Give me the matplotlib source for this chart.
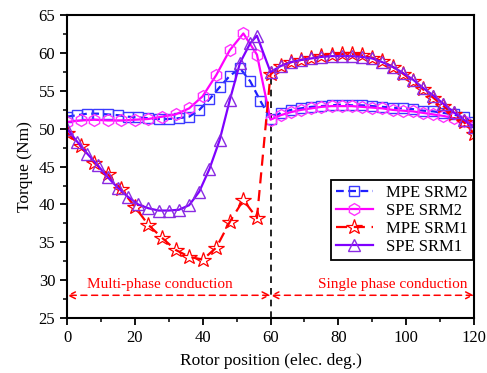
import numpy as np
from matplotlib import pyplot as plt
from matplotlib.ticker import MultipleLocator

plt.rcParams["font.family"] = ["Liberation Serif", "DejaVu Serif"]
plt.rcParams["mathtext.fontset"] = "stix"

# rotor positions (elec. deg.)
pos_3 = list(range(0, 121, 3))
pos_4 = list(range(0, 61, 4)) + list(range(63, 121, 3))
pos_srm1_spe = list(range(0, 55, 3)) + [56] + list(range(60, 121, 3))

mpe_srm2 = [51.6, 51.8, 52.0, 52.0, 51.9, 51.8, 51.6, 51.5, 51.4, 51.3, 51.3,
            51.4, 51.6, 52.5, 53.9, 55.5, 57.0, 58.0, 56.3, 53.7, 51.3,
            52.1, 52.5, 52.7, 52.9, 53.0, 53.1, 53.2, 53.1, 53.1, 53.0,
            52.9, 52.8, 52.7, 52.6, 52.4, 52.3, 52.1, 51.9, 51.5, 50.9]

spe_srm2 = [50.9, 51.1, 51.2, 51.1, 51.1, 51.2, 51.3, 51.6, 51.9, 52.7, 54.3,
            57.1, 60.4, 62.6, 59.8, 51.2,
            51.8, 52.2, 52.5, 52.7, 52.9, 53.0, 53.0, 53.0, 52.9, 52.8,
            52.7, 52.5, 52.4, 52.3, 52.1, 51.9, 51.7, 51.4, 51.0, 50.4]

mpe_srm1 = [49.5, 47.7, 45.5, 44.0, 42.0, 39.7, 37.3, 35.6, 34.0, 33.1, 32.7,
            34.3, 37.7, 40.6, 38.2, 57.2,
            58.3, 58.8, 59.1, 59.4, 59.6, 59.8, 59.9, 59.9, 59.7, 59.4,
            58.9, 58.2, 57.3, 56.3, 55.2, 54.1, 53.0, 51.9, 50.9, 49.3]

spe_srm1 = [50.0, 48.3, 46.7, 45.2, 43.6, 42.2, 41.0, 40.0, 39.5, 39.2, 39.2,
            39.3, 39.9, 41.7, 44.7, 48.5, 53.8, 58.7, 61.3, 62.3, 57.5,
            58.3, 58.8, 59.1, 59.3, 59.5, 59.6, 59.6, 59.6, 59.5, 59.3,
            58.8, 58.2, 57.4, 56.5, 55.4, 54.4, 53.3, 52.2, 51.2, 50.2]

boundary = 60
arrow_y = 28

fig = plt.figure(figsize=(4.87, 3.73), dpi=100)
ax = fig.add_axes([0.1376, 0.1475, 0.8357, 0.8115])

ax.plot(pos_3, mpe_srm2, color="#1f1fff", ls=(0, (3.5, 2)), lw=1.6,
        marker="s", ms=7, mfc="none", mec="#3a3aff", mew=1.0, label="MPE SRM2")
ax.plot(pos_4, spe_srm2, color="#ff00ff", ls="-", lw=1.6,
        marker="h", ms=8.5, mfc="none", mec="#ff33ff", mew=1.0, label="SPE SRM2")
ax.plot(pos_4, mpe_srm1, color="#ff0000", ls=(0, (5, 3)), lw=1.6,
        marker="*", ms=11.5, mfc="none", mec="#ff0000", mew=0.9, label="MPE SRM1")
ax.plot(pos_srm1_spe, spe_srm1, color="#7f00ff", ls="-", lw=1.6,
        marker="^", ms=8.5, mfc="none", mec="#8a2be2", mew=1.0, label="SPE SRM1")

# phase boundary
ax.plot([boundary, boundary], [25, spe_srm1[pos_srm1_spe.index(boundary)]],
        color="black", ls=(0, (4, 3)), lw=1.2, zorder=1)

# conduction regions
arrow_kw = dict(arrowstyle="<->", color="red", lw=1.1, ls=(0, (4, 3)),
                shrinkA=0, shrinkB=0, mutation_scale=12)
ax.annotate("", xy=(0, arrow_y), xytext=(boundary, arrow_y), arrowprops=arrow_kw)
ax.annotate("", xy=(boundary, arrow_y), xytext=(120, arrow_y), arrowprops=arrow_kw)
ax.text(27.5, 29.4, "Multi-phase conduction", color="red", fontsize=11,
        ha="center", va="center")
ax.text(96, 29.4, "Single phase conduction", color="red", fontsize=11,
        ha="center", va="center")

ax.set_xlim(0, 120)
ax.set_ylim(25, 65)
ax.xaxis.set_major_locator(MultipleLocator(20))
ax.xaxis.set_minor_locator(MultipleLocator(10))
ax.yaxis.set_major_locator(MultipleLocator(5))
ax.yaxis.set_minor_locator(MultipleLocator(2.5))
ax.tick_params(which="major", direction="out", length=5, width=1.3, labelsize=12)
ax.tick_params(which="minor", direction="out", length=3, width=1.1)
for s in ax.spines.values():
    s.set_linewidth(1.5)

ax.set_xlabel("Rotor position (elec. deg.)", fontsize=12.5, labelpad=5)
ax.set_ylabel("Torque (Nm)", fontsize=12.5, labelpad=4)

leg = ax.legend(loc="lower right", bbox_to_anchor=(1.005, 0.18), fontsize=12,
                fancybox=False, edgecolor="black", framealpha=1,
                handlelength=2.2, handletextpad=0.8, borderpad=0.3,
                labelspacing=0.12, borderaxespad=0.2)
leg.get_frame().set_linewidth(1.3)

fig.savefig("out.png", dpi=100)
